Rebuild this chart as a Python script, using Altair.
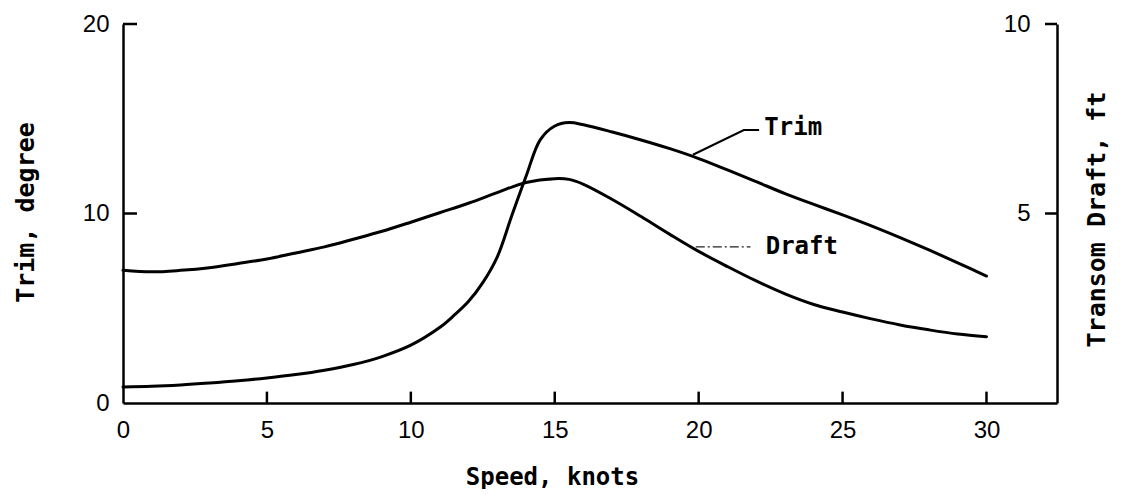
import altair as alt
import pandas as pd

# --- data ---
speed = [0, 1, 2, 3, 4, 5, 6, 7, 8, 9, 10, 11, 11.5, 12, 12.5, 13, 13.5, 14, 14.5, 15, 15.5,
         16, 17, 18, 19, 20, 21, 22, 23, 24, 25, 26, 27, 28, 29, 30]
trim_deg = [0.85, 0.88, 0.95, 1.05, 1.17, 1.32, 1.5, 1.73, 2.03, 2.45, 3.05, 3.98, 4.62, 5.35,
            6.35, 7.7, 9.85, 11.95, 13.9, 14.62, 14.8, 14.68, 14.3, 13.88, 13.42, 12.9,
            12.3, 11.68, 11.05, 10.48, 9.93, 9.35, 8.73, 8.08, 7.4, 6.7]
draft_speed = [0, 1, 2, 3, 4, 5, 6, 7, 8, 9, 10, 11, 12, 13, 14, 15, 15.5, 16, 17, 18, 19,
               20, 21, 22, 23, 24, 25, 26, 27, 28, 29, 30]
draft_ft = [3.5, 3.46, 3.5, 3.57, 3.68, 3.8, 3.96, 4.12, 4.32, 4.53, 4.77, 5.02, 5.27, 5.55,
            5.82, 5.92, 5.9, 5.77, 5.37, 4.92, 4.45, 4.0, 3.6, 3.22, 2.88, 2.6, 2.4, 2.22,
            2.06, 1.93, 1.82, 1.75]

x_ticks = [0, 5, 10, 15, 20, 25, 30]
trim_ticks = [0, 10, 20]
draft_ticks = [5, 10]

trim_leader_x = [19.8, 21.57, 22.1]
trim_leader_y = [13.1, 14.4, 14.4]
draft_leader_x = [19.9, 21.8]
draft_leader_y = [4.12, 4.12]
trim_label = ["Trim"]
trim_label_x = [22.28]
trim_label_y = [14.5]
draft_label = ["Draft"]
draft_label_x = [22.33]
draft_label_y = [4.12]

W, H = 934, 379
XMAX = 32.45

trim_df = pd.DataFrame({"speed": speed, "trim": trim_deg})
draft_df = pd.DataFrame({"speed": draft_speed, "draft": draft_ft})
xt_df = pd.DataFrame({"speed": [v for v in x_ticks if v > 0]})
tt_df = pd.DataFrame({"trim": [v for v in trim_ticks if v > 0]})
dt_df = pd.DataFrame({"draft": draft_ticks})
tl_df = pd.DataFrame({"speed": trim_leader_x, "trim": trim_leader_y, "o": [0, 1, 2]})
dl_df = pd.DataFrame({"speed": draft_leader_x, "draft": draft_leader_y})
tlab_df = pd.DataFrame({"speed": trim_label_x, "trim": trim_label_y, "t": trim_label})
dlab_df = pd.DataFrame({"speed": draft_label_x, "draft": draft_label_y, "t": draft_label})

xscale = alt.Scale(domain=[0, XMAX], nice=False, zero=False)
yscale_trim = alt.Scale(domain=[0, 20], nice=False)
yscale_draft = alt.Scale(domain=[0, 10], nice=False)

LABEL_FONT = "Liberation Sans"
TITLE_FONT = "DejaVu Sans Mono"

x_axis = alt.Axis(values=x_ticks, ticks=False, labelFont=LABEL_FONT, labelFontSize=24,
                  labelPadding=15, labelColor="black", title="Speed, knots",
                  titleFont=TITLE_FONT, titleFontSize=24, titleFontWeight="bold",
                  titleColor="black", titleX=429, titleY=74, titleBaseline="middle",
                  titleAlign="center",
                  domainColor="black", domainWidth=2.5, grid=False, labelFlush=False)

left_axis = alt.Axis(values=trim_ticks, ticks=False, labelFont=LABEL_FONT, labelFontSize=24,
                     labelPadding=14, labelColor="black", title="Trim, degree",
                     titleFont=TITLE_FONT, titleFontSize=25, titleFontWeight="bold",
                     titleColor="black", titleX=-98, titleY=188, titleAngle=270,
                     titleBaseline="middle", titleAlign="center",
                     domainColor="black", domainWidth=2.5, grid=False)

right_axis = alt.Axis(values=draft_ticks, ticks=False, orient="right", labelFont=LABEL_FONT,
                      labelFontSize=24, labelPadding=-27, labelAlign="right",
                      labelColor="black", title="Transom Draft, ft",
                      titleFont=TITLE_FONT, titleFontSize=25, titleFontWeight="bold",
                      titleColor="black", titleX=39, titleY=195, titleAngle=270,
                      titleBaseline="middle", titleAlign="center",
                      domainColor="black", domainWidth=2.5, grid=False)

X = alt.X("speed:Q", scale=xscale)
YT = alt.Y("trim:Q", scale=yscale_trim)
YD = alt.Y("draft:Q", scale=yscale_draft)

TICK_COLOR = "black"

trim_line = alt.Chart(trim_df).mark_line(color="black", strokeWidth=3, interpolate="catmull-rom",
                                         strokeJoin="round", strokeCap="round").encode(
    x=alt.X("speed:Q", scale=xscale, axis=x_axis),
    y=alt.Y("trim:Q", scale=yscale_trim, axis=left_axis),
)
x_tick_marks = alt.Chart(xt_df).mark_rule(color=TICK_COLOR, strokeWidth=2.5).encode(
    x=X, y=alt.datum(0), y2=alt.datum(0.6),
)
left_tick_marks = alt.Chart(tt_df).mark_rule(color=TICK_COLOR, strokeWidth=2.5).encode(
    y=YT, x=alt.value(0), x2=alt.value(14),
)
trim_leader = alt.Chart(tl_df).mark_line(color="black", strokeWidth=2).encode(
    x=X, y=YT, order="o:Q",
)
trim_text = alt.Chart(tlab_df).mark_text(font=TITLE_FONT, fontSize=24, fontWeight="bold",
                                         align="left", baseline="middle", color="black").encode(
    x=X, y=YT, text="t:N",
)
left = alt.layer(trim_line, x_tick_marks, left_tick_marks, trim_leader, trim_text)

draft_line = alt.Chart(draft_df).mark_line(color="black", strokeWidth=3, interpolate="catmull-rom",
                                           strokeJoin="round", strokeCap="round").encode(
    x=X, y=alt.Y("draft:Q", scale=yscale_draft, axis=right_axis),
)
right_tick_marks = alt.Chart(dt_df).mark_rule(color=TICK_COLOR, strokeWidth=2.5).encode(
    y=YD, x=alt.value(W), x2=alt.value(W - 12),
)
draft_leader = alt.Chart(dl_df).mark_line(color="#222", strokeWidth=1.3, strokeDash=[9, 3, 2, 3]).encode(
    x=X, y=YD,
)
draft_text = alt.Chart(dlab_df).mark_text(font=TITLE_FONT, fontSize=24, fontWeight="bold",
                                          align="left", baseline="middle", color="black").encode(
    x=X, y=YD, text="t:N",
)
right = alt.layer(draft_line, right_tick_marks, draft_leader, draft_text)

chart = alt.layer(left, right).resolve_scale(y="independent").properties(
    width=W, height=H,
    autosize=alt.AutoSizeParams(type="none"),
    padding={"left": 115, "top": 16, "right": 60, "bottom": 86},
    background="white",
).configure_view(stroke=None)

chart.save("out.html", embed_options={"renderer": "svg", "actions": False})
